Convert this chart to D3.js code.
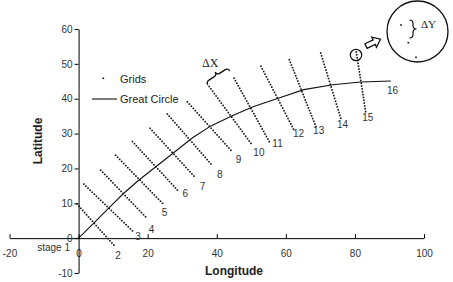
<!DOCTYPE html>
<head>
<style>
body { margin: 0; background: #fff; }
svg text { font-family: Arial, "Liberation Sans", sans-serif; }
.tick text { font-size: 10px; fill: #333; }
.axis path, .axis line { stroke: #000; }
.stage-label { font-size: 10px; fill: #333; }
.title { font-size: 12px; font-weight: bold; fill: #222; }
.greek { font-family: "Times New Roman", "Liberation Serif", serif; font-size: 12px; fill: #222; }
</style>
<meta charset="utf-8">
<title></title>
</head>
<body>
<script src="https://d3js.org/d3.v7.min.js"></script>
<script>
// stages 2..15 : grid line from start to end (lon, lat), number of grid points
var stageNames = [2, 3, 4, 5, 6, 7, 8, 9, 10, 11, 12, 13, 14, 15];
var stageStart = [[-0.5, 9.8], [1.5, 15.5], [6.4, 19.5], [10.7, 23.8], [15.6, 27.7], [20.7, 31.5], [25.7, 35.6],
                  [31.5, 39.1], [37.8, 43.5], [45, 45.9], [52.8, 49.3], [61, 51.2], [70.1, 53.1], [80.4, 53.4]];
var stageEnd = [[10.2, -2], [15.6, 2.1], [19.4, 6.1], [24.3, 10], [28.6, 13.8], [33.4, 17.8], [38.3, 21.3],
                [44.1, 25.2], [49.9, 27.2], [55.2, 27.7], [62.2, 31.3], [68.7, 32], [75.9, 34.4], [83.1, 36.3]];
var stageCount = [20, 24, 23, 24, 24, 23, 24, 23, 25, 26, 25, 26, 24, 22];
// where the stage numbers sit (lon, lat)
var stageLabelAt = [[11.4, -4.9], [17.2, 0.6], [21.1, 2.4], [24.9, 7.5], [30.9, 12.7], [35.9, 14.7], [40.9, 18.2],
                    [46.3, 22.6], [52.2, 24.6], [57.6, 27.2], [63.7, 30.1], [69.5, 31], [76.4, 32.7], [83.7, 34.6], [90.9, 42.5]];

// great circle route
var gcLon = [0, 4.4, 8.7, 13, 17.4, 22.9, 27.8, 33, 38.3, 44.5, 50.5, 58, 65.2, 73.6, 81.7, 90.4];
var gcLat = [0, 4.3, 8.6, 12.8, 16.6, 20.9, 24.7, 28.8, 32.2, 35.1, 37.7, 40.2, 42.6, 44, 44.8, 45.1];

var xTicks = [-20, 0, 20, 40, 60, 80, 100];
var yTicks = [-10, 0, 10, 20, 30, 40, 50, 60];

var width = 453, height = 282;

var svg = d3.select("body").append("svg")
    .attr("width", width)
    .attr("height", height);

var x = d3.scaleLinear().domain([-20, 100]).range([9.5, 424]);
var y = d3.scaleLinear().domain([-10, 60]).range([273, 29]);

// axes cross at the origin
svg.append("g").attr("class", "axis")
    .attr("transform", "translate(0," + y(0) + ")")
    .call(d3.axisBottom(x).tickValues(xTicks).tickFormat(d => String(d))
        .tickSizeInner(-4).tickSizeOuter(0).tickPadding(12));

svg.append("g").attr("class", "axis")
    .attr("transform", "translate(" + x(0) + ",0)")
    .call(d3.axisLeft(y).tickValues(yTicks).tickFormat(d => String(d))
        .tickSizeInner(4).tickSizeOuter(0).tickPadding(2));

svg.append("text").attr("class", "title")
    .attr("x", 234).attr("y", 275).attr("text-anchor", "middle")
    .text("Longitude");
svg.append("text").attr("class", "title")
    .attr("transform", "translate(42,141) rotate(-90)").attr("text-anchor", "middle")
    .text("Latitude");

// grid points
var grid = [];
stageNames.forEach(function(s, i) {
    var a = stageStart[i], b = stageEnd[i], n = stageCount[i];
    for (var k = 0; k < n; k++) {
        var t = k / (n - 1);
        grid.push([a[0] + (b[0] - a[0]) * t, a[1] + (b[1] - a[1]) * t]);
    }
});
grid.push([0, 0]);

svg.append("g").selectAll("rect")
    .data(grid)
  .enter().append("rect")
    .attr("x", d => x(d[0]) - 0.8)
    .attr("y", d => y(d[1]) - 0.8)
    .attr("width", 1.6).attr("height", 1.6)
    .attr("fill", "#111");

// great circle
var line = d3.line().x(d => x(d[0])).y(d => y(d[1]));
svg.append("path")
    .datum(gcLon.map((d, i) => [d, gcLat[i]]))
    .attr("d", line)
    .attr("fill", "none").attr("stroke", "#111").attr("stroke-width", 1.1);

// stage numbers
svg.append("text").attr("class", "stage-label")
    .attr("x", 70).attr("y", 251).attr("text-anchor", "end").text("stage 1");
svg.append("g").selectAll("text")
    .data(stageLabelAt)
  .enter().append("text").attr("class", "stage-label")
    .attr("x", d => x(d[0])).attr("y", d => y(d[1]))
    .attr("dy", "0.35em").attr("text-anchor", "middle")
    .text((d, i) => i + 2);

// legend
svg.append("rect").attr("x", 102.5).attr("y", 77.5).attr("width", 1.6).attr("height", 1.6).attr("fill", "#111");
svg.append("text").attr("x", 120).attr("y", 83).style("font-size", "11px").attr("fill", "#222").text("Grids");
svg.append("line").attr("x1", 92).attr("x2", 117).attr("y1", 99).attr("y2", 99)
    .attr("stroke", "#111").attr("stroke-width", 1.1);
svg.append("text").attr("x", 120).attr("y", 103).style("font-size", "11px").attr("fill", "#222").text("Great Circle");

// delta X brace
function brace(L, h) {
    var m = L / 2;
    return "M0," + h + " Q0,0 " + h + ",0 L" + (m - h) + ",0 Q" + m + ",0 " + m + "," + (-h) +
        " Q" + m + ",0 " + (m + h) + ",0 L" + (L - h) + ",0 Q" + L + ",0 " + L + "," + h;
}
svg.append("path")
    .attr("d", brace(26, 3.5))
    .attr("transform", "translate(206,82) rotate(-32.5)")
    .attr("fill", "none").attr("stroke", "#111").attr("stroke-width", 1.3);
svg.append("text").attr("class", "greek").attr("x", 202).attr("y", 67).text("\u0394X");

// zoom marker, arrow and magnified circle
svg.append("circle").attr("cx", 356).attr("cy", 55).attr("r", 5.7)
    .attr("fill", "none").attr("stroke", "#111").attr("stroke-width", 1.2);
svg.append("path")
    .attr("d", "M0,-2.5 L9,-2.5 L9,-5.5 L16,0 L9,5.5 L9,2.5 L0,2.5 Z")
    .attr("transform", "translate(366,46) rotate(-25)")
    .attr("fill", "#fff").attr("stroke", "#111").attr("stroke-width", 1.3);
svg.append("circle").attr("cx", 417.5).attr("cy", 31.5).attr("r", 30.5)
    .attr("fill", "none").attr("stroke", "#111").attr("stroke-width", 1.3);
[[401, 25], [408.3, 42.7], [416, 57.3]].forEach(function(p) {
    svg.append("rect").attr("x", p[0] - 0.8).attr("y", p[1] - 0.8)
        .attr("width", 1.6).attr("height", 1.6).attr("fill", "#111");
});
svg.append("path")
    .attr("d", brace(18, 3.5))
    .attr("transform", "translate(413,20) rotate(90)")
    .attr("fill", "none").attr("stroke", "#111").attr("stroke-width", 1.2);
svg.append("text").attr("class", "greek").style("font-size", "11px").attr("x", 421).attr("y", 28).text("\u0394Y");
</script>
</body>
</html>
